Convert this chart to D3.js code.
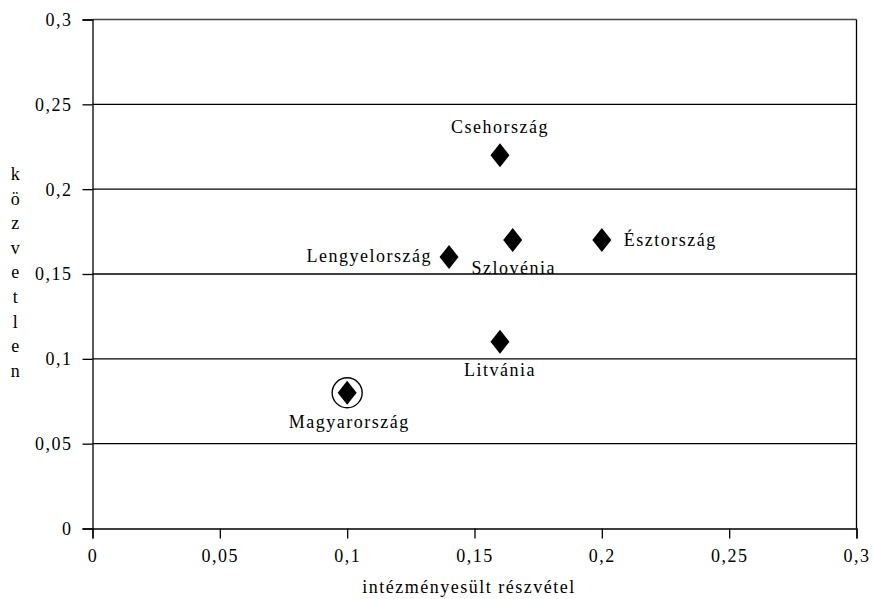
<!DOCTYPE html>
<html><head><meta charset="utf-8">
<script src="https://cdn.jsdelivr.net/npm/d3@7"></script>
<style>
body{margin:0;background:#fff;}
svg text{font-family:'Liberation Serif','Tinos','Times New Roman','DejaVu Serif',serif !important;fill:#000;letter-spacing:1.5px;}
</style></head>
<body><svg id="c" width="874" height="599"></svg>
<script>
const countries = ["Csehország","Lengyelország","Szlovénia","Észtország","Litvánia","Magyarország"];
const xValues = [0.16, 0.14, 0.165, 0.2, 0.16, 0.1];
const yValues = [0.22, 0.16, 0.17, 0.17, 0.11, 0.08];
const xTicks = [0, 0.05, 0.1, 0.15, 0.2, 0.25, 0.3];
const yTicks = [0, 0.05, 0.1, 0.15, 0.2, 0.25, 0.3];
const xTitle = "intézményesült részvétel";
const yTitle = "közvetlen";
const highlighted = "Magyarország";

const svg = d3.select("#c");
const m = {l:92.5, r:856.5, t:19.5, b:528.5};
const x = d3.scaleLinear().domain([0,0.3]).range([m.l, m.r]);
const y = d3.scaleLinear().domain([0,0.3]).range([m.b, m.t]);
const fmt = d => String(d).replace(".", ",");

// gridlines
svg.append("g").selectAll("line").data(yTicks.filter(d=>d>0)).join("line")
  .attr("x1", m.l).attr("x2", m.r).attr("y1", d=>y(d)).attr("y2", d=>y(d))
  .attr("stroke", d => d===0.3 ? "#444" : "#000").attr("stroke-width", 1.3);
// right border
svg.append("line").attr("x1", m.r).attr("x2", m.r).attr("y1", m.t).attr("y2", m.b)
  .attr("stroke","#000").attr("stroke-width",1.3);

const yAxis = svg.append("g").attr("transform", `translate(${m.l},0)`)
  .call(d3.axisLeft(y).tickValues(yTicks).tickFormat(fmt).tickSize(10).tickPadding(10));
const xAxis = svg.append("g").attr("transform", `translate(0,${m.b})`)
  .call(d3.axisBottom(x).tickValues(xTicks).tickFormat(fmt).tickSize(10).tickPadding(10));
[xAxis, yAxis].forEach(g => {
  g.attr("font-family", null).attr("font-size", null);
  g.select(".domain").attr("stroke","#000").attr("stroke-width",1.3);
  g.selectAll(".tick line").attr("stroke","#000").attr("stroke-width",1.3);
  g.selectAll("text").style("font-size", "18px");
});
yAxis.selectAll("text").attr("dy","0.33em");
xAxis.selectAll("text").attr("dy","0.75em");

// axis titles
svg.append("text").attr("x", 469).attr("y", 593).attr("text-anchor","middle")
  .style("font-size", "18px").text(xTitle);
const yt = svg.append("text").style("font-size", "18px").attr("text-anchor","middle");
yTitle.split("").forEach((ch,i) => {
  yt.append("tspan").attr("x", 16).attr("y", 180 + i*24.6).text(ch);
});

// points
const pts = countries.map((c,i)=>({name:c, x:xValues[i], y:yValues[i]}));
const diamond = "M0,-12L9.5,0L0,12L-9.5,0Z";
svg.append("g").selectAll("path").data(pts).join("path")
  .attr("d", diamond).attr("transform", d=>`translate(${x(d.x)},${y(d.y)})`).attr("fill","#000");
pts.filter(d=>d.name===highlighted).forEach(d=>{
  svg.append("circle").attr("cx", x(d.x)).attr("cy", y(d.y)).attr("r", 15)
    .attr("fill","none").attr("stroke","#000").attr("stroke-width",1.4);
});

// label placement (offsets from point, in px)
const place = {
  "Csehország":   {dx:0,   dy:-22, anchor:"middle"},
  "Lengyelország":{dx:-17, dy:5,   anchor:"end"},
  "Szlovénia":    {dx:1,   dy:34,  anchor:"middle"},
  "Észtország":   {dx:22,  dy:6,   anchor:"start"},
  "Litvánia":     {dx:0,   dy:34,  anchor:"middle"},
  "Magyarország": {dx:2,   dy:35,  anchor:"middle"}
};
svg.append("g").selectAll("text").data(pts).join("text")
  .attr("x", d=>x(d.x)+place[d.name].dx).attr("y", d=>y(d.y)+place[d.name].dy)
  .attr("text-anchor", d=>place[d.name].anchor).style("font-size", "18px").text(d=>d.name);
</script></body></html>
